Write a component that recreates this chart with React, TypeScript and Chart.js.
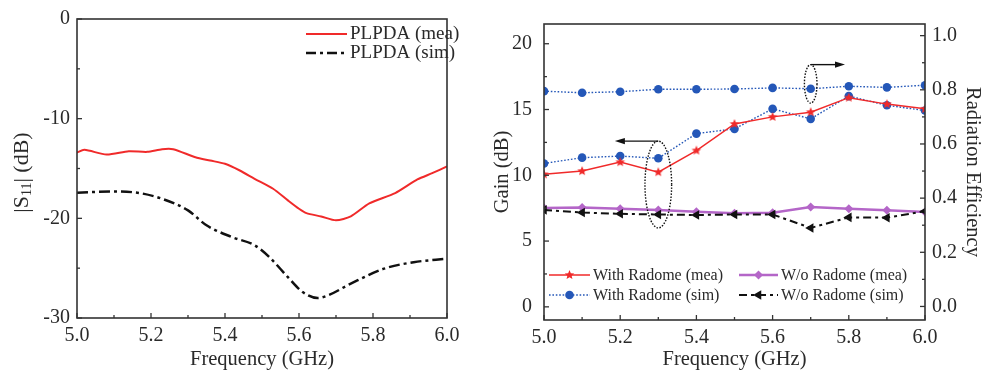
import React, { useEffect, useRef } from 'react';
import { Chart, registerables } from 'chart.js';
Chart.register(...registerables);

const FONT = '"Liberation Serif", "Times New Roman", serif';
const TXT = '#2a2a2a';
const AXIS = '#333333';
const RED = '#f02a2a';
const BLUE = '#2457b8';
const PURPLE = '#b466c8';
const BLACK = '#111111';

// ---- Left chart: |S11| ----
const S11_MEA_FREQ = [5.0, 5.02, 5.08, 5.14, 5.19, 5.23, 5.26, 5.32, 5.36, 5.4, 5.44, 5.48, 5.53, 5.57, 5.6, 5.62, 5.66, 5.7, 5.74, 5.79, 5.86, 5.92, 5.96, 6.0];
const S11_MEA = [-13.4, -13.13, -13.6, -13.27, -13.33, -13.06, -13.06, -13.87, -14.2, -14.53, -15.2, -16.03, -17.03, -18.2, -19.04, -19.48, -19.81, -20.2, -19.8, -18.5, -17.47, -16.1, -15.47, -14.8];
const S11_SIM_FREQ = [5.0, 5.1, 5.17, 5.23, 5.3, 5.35, 5.42, 5.48, 5.52, 5.57, 5.61, 5.65, 5.68, 5.74, 5.83, 5.91, 6.0];
const S11_SIM = [-17.43, -17.3, -17.47, -18.04, -19.2, -20.7, -21.9, -22.7, -23.9, -25.9, -27.4, -28.0, -27.7, -26.55, -25.05, -24.4, -24.05];
const S11_TICKS = [-30, -20, -10, 0];
const S11_MINOR = [-25, -15, -5];
const S11_LEGEND = ['PLPDA (mea)', 'PLPDA (sim)'];

// ---- Right chart: Gain / efficiency ----
const FREQ = [5.0, 5.1, 5.2, 5.3, 5.4, 5.5, 5.6, 5.7, 5.8, 5.9, 6.0];
const GAIN_WITH_MEA = [10.07, 10.32, 11.0, 10.24, 11.88, 13.9, 14.44, 14.8, 15.9, 15.41, 15.05];
const GAIN_WITH_SIM = [10.9, 11.34, 11.46, 11.29, 13.17, 13.53, 15.05, 14.29, 16.02, 15.32, 14.92];
const GAIN_WO_MEA = [7.51, 7.56, 7.46, 7.37, 7.22, 7.12, 7.15, 7.59, 7.46, 7.34, 7.2];
const GAIN_WO_SIM = [7.37, 7.17, 7.07, 7.02, 6.98, 7.02, 7.02, 6.0, 6.8, 6.78, 7.27];
const EFF_WITH_SIM = [0.795, 0.789, 0.793, 0.802, 0.802, 0.803, 0.807, 0.804, 0.813, 0.809, 0.817];
const FREQ_TICKS = [5.0, 5.2, 5.4, 5.6, 5.8, 6.0];
const FREQ_MINOR = [5.1, 5.3, 5.5, 5.7, 5.9];
const GAIN_TICKS = [0, 5, 10, 15, 20];
const GAIN_MINOR = [2.5, 7.5, 12.5, 17.5];
const EFF_TICKS = [0, 0.2, 0.4, 0.6, 0.8, 1.0];
const EFF_MINOR = [0.1, 0.3, 0.5, 0.7, 0.9];
const GAIN_LEGEND = ['With Radome (mea)', 'W/o Radome (mea)', 'With Radome (sim)', 'W/o Radome (sim)'];

// annotation ellipses (data space)
const GAIN_ELLIPSE = { x: 5.3, y: 9.3, dx: 0.035, dy: 3.3, arrowTo: 5.186 };
const EFF_ELLIPSE = { x: 5.7, y: 0.822, dx: 0.0165, dy: 0.071, arrowTo: 5.79 };

function starPath(ctx: CanvasRenderingContext2D, x: number, y: number, r: number) {
  ctx.beginPath();
  for (let i = 0; i < 10; i++) {
    const rr = i % 2 === 0 ? r : r * 0.45;
    const a = -Math.PI / 2 + (i * Math.PI) / 5;
    ctx.lineTo(x + rr * Math.cos(a), y + rr * Math.sin(a));
  }
  ctx.closePath();
}

function starCanvas(color: string, r: number): HTMLCanvasElement {
  const size = Math.ceil(r * 2 + 2);
  const c = document.createElement('canvas');
  c.width = size;
  c.height = size;
  const ctx = c.getContext('2d')!;
  starPath(ctx, size / 2, size / 2, r);
  ctx.fillStyle = color;
  ctx.fill();
  return c;
}

function drawMarker(ctx: CanvasRenderingContext2D, kind: string, x: number, y: number, color: string, r: number) {
  ctx.save();
  ctx.setLineDash([]);
  ctx.fillStyle = color;
  if (kind === 'star') {
    starPath(ctx, x, y, r);
  } else {
    ctx.beginPath();
    if (kind === 'circle') ctx.arc(x, y, r, 0, Math.PI * 2);
    else if (kind === 'diamond') {
      ctx.moveTo(x, y - r); ctx.lineTo(x + r, y); ctx.lineTo(x, y + r); ctx.lineTo(x - r, y); ctx.closePath();
    } else if (kind === 'triLeft') {
      ctx.moveTo(x - r, y); ctx.lineTo(x + r * 0.5, y - r * 0.866); ctx.lineTo(x + r * 0.5, y + r * 0.866); ctx.closePath();
    }
  }
  ctx.fill();
  ctx.restore();
}

function drawTicks(ctx: CanvasRenderingContext2D, chart: any, id: string, major: number[], minor: number[]) {
  const s = chart.scales[id];
  const ca = chart.chartArea;
  ctx.save();
  ctx.strokeStyle = AXIS;
  ctx.lineWidth = 1.3;
  ctx.setLineDash([]);
  const draw = (v: number, len: number) => {
    const p = s.getPixelForValue(v);
    ctx.beginPath();
    if (s.isHorizontal()) { ctx.moveTo(p, ca.bottom); ctx.lineTo(p, ca.bottom - len); }
    else if (s.position === 'left') { ctx.moveTo(ca.left, p); ctx.lineTo(ca.left + len, p); }
    else { ctx.moveTo(ca.right, p); ctx.lineTo(ca.right - len, p); }
    ctx.stroke();
  };
  major.forEach((v) => draw(v, 5));
  minor.forEach((v) => draw(v, 3));
  ctx.restore();
}

function drawFrame(ctx: CanvasRenderingContext2D, chart: any) {
  const ca = chart.chartArea;
  ctx.save();
  ctx.strokeStyle = AXIS;
  ctx.lineWidth = 1.6;
  ctx.setLineDash([]);
  ctx.strokeRect(ca.left, ca.top, ca.right - ca.left, ca.bottom - ca.top);
  ctx.restore();
}

function legendLine(ctx: CanvasRenderingContext2D, x0: number, x1: number, y: number, color: string, width: number, dash: number[]) {
  ctx.save();
  ctx.strokeStyle = color;
  ctx.lineWidth = width;
  ctx.setLineDash(dash);
  ctx.beginPath();
  ctx.moveTo(x0, y);
  ctx.lineTo(x1, y);
  ctx.stroke();
  ctx.restore();
}

function drawEllipseArrow(ctx: CanvasRenderingContext2D, xs: any, ys: any, e: any) {
  const cx = xs.getPixelForValue(e.x);
  const cy = ys.getPixelForValue(e.y);
  const rx = Math.abs(xs.getPixelForValue(e.x + e.dx) - cx);
  const ry = Math.abs(ys.getPixelForValue(e.y + e.dy) - cy);
  ctx.save();
  ctx.strokeStyle = BLACK;
  ctx.lineWidth = 1.4;
  ctx.setLineDash([1.5, 1.5]);
  ctx.beginPath();
  ctx.ellipse(cx, cy, rx, ry, 0, 0, Math.PI * 2);
  ctx.stroke();
  const ay = cy - ry;
  const ax = xs.getPixelForValue(e.arrowTo);
  const dir = ax < cx ? -1 : 1;
  ctx.setLineDash([]);
  ctx.lineWidth = 1.4;
  ctx.beginPath();
  ctx.moveTo(cx, ay);
  ctx.lineTo(ax - dir * 6, ay);
  ctx.stroke();
  ctx.fillStyle = BLACK;
  ctx.beginPath();
  ctx.moveTo(ax, ay);
  ctx.lineTo(ax - dir * 10, ay - 3.2);
  ctx.lineTo(ax - dir * 10, ay + 3.2);
  ctx.closePath();
  ctx.fill();
  ctx.restore();
}

const tickFont = { family: FONT, size: 20 };
const titleFont = { family: FONT, size: 20.5 };

function freqAxis(height: number) {
  return {
    type: 'linear',
    min: 5,
    max: 6,
    afterBuildTicks: (s: any) => { s.ticks = FREQ_TICKS.map((value) => ({ value })); },
    afterFit: (s: any) => { s.height = height; },
    grid: { display: false, drawTicks: false },
    border: { display: false },
    ticks: { padding: 6, font: tickFont, color: TXT, maxRotation: 0, autoSkip: false, callback: (v: any) => Number(v).toFixed(1) },
    title: { display: true, text: 'Frequency (GHz)', font: titleFont, color: TXT, padding: { top: 0, bottom: 4 } },
  };
}

export default function App() {
  const leftRef = useRef<HTMLCanvasElement>(null);
  const rightRef = useRef<HTMLCanvasElement>(null);

  useEffect(() => {
    const leftPlugin = {
      id: 'leftDecor',
      afterDraw(chart: any) {
        const ctx = chart.ctx as CanvasRenderingContext2D;
        const ca = chart.chartArea;
        drawFrame(ctx, chart);
        drawTicks(ctx, chart, 'x', FREQ_TICKS, FREQ_MINOR);
        drawTicks(ctx, chart, 'y', S11_TICKS, S11_MINOR);
        // legend
        const x0 = ca.right - 141, x1 = ca.right - 100, tx = ca.right - 97;
        const rows = [ca.top + 15, ca.top + 34];
        legendLine(ctx, x0, x1, rows[0], RED, 2, []);
        legendLine(ctx, x0, x1, rows[1], BLACK, 2.5, [10, 4, 3, 4]);
        ctx.save();
        ctx.fillStyle = TXT;
        ctx.font = `19px ${FONT}`;
        ctx.textBaseline = 'middle';
        ctx.fillText(S11_LEGEND[0], tx, rows[0]);
        ctx.fillText(S11_LEGEND[1], tx, rows[1]);
        ctx.restore();
        // y title |S11| (dB)
        ctx.save();
        ctx.translate(22, (ca.top + ca.bottom) / 2 + 4);
        ctx.rotate(-Math.PI / 2);
        ctx.fillStyle = TXT;
        ctx.textBaseline = 'middle';
        const big = `22px ${FONT}`;
        const small = `14px ${FONT}`;
        const parts = [
          { t: '|S', f: big, dy: 0 },
          { t: '11', f: small, dy: 5 },
          { t: '| (dB)', f: big, dy: 0 },
        ];
        let total = 0;
        parts.forEach((p) => { ctx.font = p.f; total += ctx.measureText(p.t).width; });
        let x = -total / 2;
        parts.forEach((p) => {
          ctx.font = p.f;
          ctx.fillText(p.t, x, p.dy);
          x += ctx.measureText(p.t).width;
        });
        ctx.restore();
      },
    };

    const left = new Chart(leftRef.current!, {
      type: 'line',
      data: {
        datasets: [
          {
            label: S11_LEGEND[0],
            data: S11_MEA_FREQ.map((x, i) => ({ x, y: S11_MEA[i] })),
            borderColor: RED,
            borderWidth: 2,
            pointRadius: 0,
            tension: 0.25,
          },
          {
            label: S11_LEGEND[1],
            data: S11_SIM_FREQ.map((x, i) => ({ x, y: S11_SIM[i] })),
            borderColor: BLACK,
            borderWidth: 2.5,
            borderDash: [11, 4, 3, 4],
            pointRadius: 0,
            cubicInterpolationMode: 'monotone',
          },
        ],
      },
      options: {
        animation: false,
        responsive: false,
        maintainAspectRatio: false,
        layout: { padding: { left: 0, right: 23, top: 18, bottom: 0 } },
        plugins: { legend: { display: false }, tooltip: { enabled: false } },
        scales: {
          x: freqAxis(58),
          y: {
            type: 'linear',
            min: -30,
            max: 0,
            afterBuildTicks: (s: any) => { s.ticks = S11_TICKS.map((value) => ({ value })); },
            afterFit: (s: any) => { s.width = 77; },
            grid: { display: false, drawTicks: false },
            border: { display: false },
            ticks: { padding: 7, font: tickFont, color: TXT, callback: (v: any) => String(v) },
          },
        },
      } as any,
      plugins: [leftPlugin],
    });

    const starImg = starCanvas(RED, 5);

    const rightPlugin = {
      id: 'rightDecor',
      afterDraw(chart: any) {
        const ctx = chart.ctx as CanvasRenderingContext2D;
        const ca = chart.chartArea;
        drawFrame(ctx, chart);
        drawTicks(ctx, chart, 'x', FREQ_TICKS, FREQ_MINOR);
        drawTicks(ctx, chart, 'y', GAIN_TICKS, GAIN_MINOR);
        drawTicks(ctx, chart, 'y2', EFF_TICKS, EFF_MINOR);
        drawEllipseArrow(ctx, chart.scales.x, chart.scales.y, GAIN_ELLIPSE);
        drawEllipseArrow(ctx, chart.scales.x, chart.scales.y2, EFF_ELLIPSE);
        // legend
        const items = [
          { label: GAIN_LEGEND[0], color: RED, w: 1.5, dash: [] as number[], m: 'star', r: 5, col: 0, row: 0 },
          { label: GAIN_LEGEND[1], color: PURPLE, w: 2.5, dash: [] as number[], m: 'diamond', r: 4.5, col: 1, row: 0 },
          { label: GAIN_LEGEND[2], color: BLUE, w: 1.4, dash: [1.6, 1.8], m: 'circle', r: 4.3, col: 0, row: 1 },
          { label: GAIN_LEGEND[3], color: BLACK, w: 2, dash: [8, 4, 3, 4], m: 'triLeft', r: 5.5, col: 1, row: 1 },
        ];
        const cols = [
          { l0: 5, l1: 46, mk: 25.5, tx: 49 },
          { l0: 195, l1: 234, mk: 214.5, tx: 237 },
        ];
        const rows = [ca.bottom - 45, ca.bottom - 25];
        ctx.save();
        ctx.font = `16px ${FONT}`;
        ctx.textBaseline = 'middle';
        items.forEach((it) => {
          const c = cols[it.col];
          const y = rows[it.row];
          legendLine(ctx, ca.left + c.l0, ca.left + c.l1, y, it.color, it.w, it.dash);
          drawMarker(ctx, it.m, ca.left + c.mk, y, it.color, it.r);
          ctx.fillStyle = TXT;
          ctx.fillText(it.label, ca.left + c.tx, y + 1);
        });
        ctx.restore();
      },
    };

    const right = new Chart(rightRef.current!, {
      type: 'line',
      data: {
        datasets: [
          {
            label: GAIN_LEGEND[0],
            data: FREQ.map((x, i) => ({ x, y: GAIN_WITH_MEA[i] })),
            borderColor: RED,
            backgroundColor: RED,
            borderWidth: 1.5,
            pointStyle: starImg,
            yAxisID: 'y',
          },
          {
            label: GAIN_LEGEND[2],
            data: FREQ.map((x, i) => ({ x, y: GAIN_WITH_SIM[i] })),
            borderColor: BLUE,
            backgroundColor: BLUE,
            borderWidth: 1.4,
            borderDash: [1.6, 1.8],
            pointStyle: 'circle',
            pointRadius: 4.3,
            pointBorderWidth: 0,
            yAxisID: 'y',
          },
          {
            label: 'Efficiency (sim)',
            data: FREQ.map((x, i) => ({ x, y: EFF_WITH_SIM[i] })),
            borderColor: BLUE,
            backgroundColor: BLUE,
            borderWidth: 1.4,
            borderDash: [1.6, 1.8],
            pointStyle: 'circle',
            pointRadius: 4.3,
            pointBorderWidth: 0,
            yAxisID: 'y2',
          },
          {
            label: GAIN_LEGEND[3],
            data: FREQ.map((x, i) => ({ x, y: GAIN_WO_SIM[i] })),
            borderColor: BLACK,
            backgroundColor: BLACK,
            borderWidth: 2,
            borderDash: [8, 4, 3, 4],
            pointStyle: 'triangle',
            pointRotation: -90,
            pointRadius: 5.5,
            pointBorderWidth: 0,
            yAxisID: 'y',
          },
          {
            label: GAIN_LEGEND[1],
            data: FREQ.map((x, i) => ({ x, y: GAIN_WO_MEA[i] })),
            borderColor: PURPLE,
            backgroundColor: PURPLE,
            borderWidth: 2.5,
            pointStyle: 'rectRot',
            pointRadius: 4.5,
            pointBorderWidth: 0,
            yAxisID: 'y',
          },
        ],
      },
      options: {
        animation: false,
        responsive: false,
        maintainAspectRatio: false,
        layout: { padding: { left: 0, right: 0, top: 13, bottom: 0 } },
        plugins: { legend: { display: false }, tooltip: { enabled: false } },
        scales: {
          x: freqAxis(56),
          y: {
            type: 'linear',
            position: 'left',
            min: -1,
            max: 21.5,
            afterBuildTicks: (s: any) => { s.ticks = GAIN_TICKS.map((value) => ({ value })); },
            afterFit: (s: any) => { s.width = 54; },
            grid: { display: false, drawTicks: false },
            border: { display: false },
            ticks: { padding: 12, font: tickFont, color: TXT, callback: (v: any) => String(v) },
            title: { display: true, text: 'Gain (dB)', font: titleFont, color: TXT, padding: { top: 0, bottom: 0 } },
          },
          y2: {
            type: 'linear',
            position: 'right',
            min: -0.05,
            max: 1.043,
            afterBuildTicks: (s: any) => { s.ticks = EFF_TICKS.map((value) => ({ value })); },
            afterFit: (s: any) => { s.width = 60; },
            grid: { display: false, drawTicks: false },
            border: { display: false },
            ticks: { padding: 7, font: tickFont, color: TXT, callback: (v: any) => Number(v).toFixed(1) },
            title: { display: true, text: 'Radiation Efficiency', font: titleFont, color: TXT, padding: { top: 0, bottom: 0 } },
          },
        },
      } as any,
      plugins: [rightPlugin],
    });

    return () => {
      left.destroy();
      right.destroy();
    };
  }, []);

  return (
    <div style={{ position: 'fixed', left: 0, top: 0, width: 985, height: 376, background: '#fff' }}>
      <canvas ref={leftRef} width={470} height={376} style={{ position: 'absolute', left: 0, top: 0 }} />
      <canvas ref={rightRef} width={495} height={376} style={{ position: 'absolute', left: 490, top: 0 }} />
    </div>
  );
}
